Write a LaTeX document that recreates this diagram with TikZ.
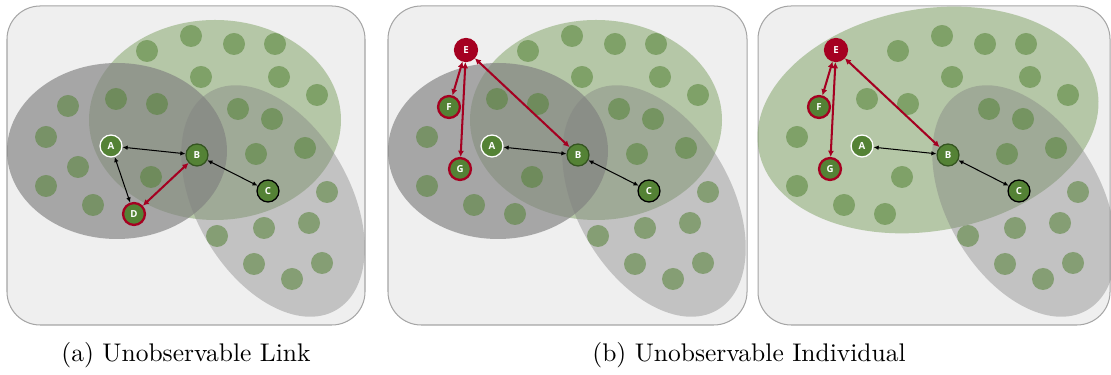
\documentclass[tikz,border=0pt]{standalone}
\usepackage{fontspec}
\newfontfamily\labelfont{Open Sans}
\usetikzlibrary{arrows.meta}
\definecolor{nodegreen}{RGB}{84,130,53}
\definecolor{dotgreen}{RGB}{84,130,53}
\definecolor{edgegreen}{RGB}{52,84,32}
\definecolor{hiddenred}{RGB}{165,0,33}
\definecolor{groupgreen}{RGB}{125,161,97}
\definecolor{groupgray}{RGB}{128,128,128}
\definecolor{panelgray}{RGB}{239,239,239}
\definecolor{bordergray}{RGB}{165,165,165}

\tikzset{
  panel/.style={draw=bordergray, fill=panelgray, line width=0.4pt, rounded corners=13pt},
  agent/.style={circle, fill=nodegreen, minimum size=8.6pt, inner sep=0pt, line width=0.5pt,
    text=white, font=\labelfont\bfseries\fontsize{3.8pt}{4pt}\selectfont},
  hidden/.style={agent, draw=hiddenred, line width=0.9pt},
  tie/.style={line width=0.4pt, {Latex[length=2pt,width=1.8pt]}-{Latex[length=2pt,width=1.8pt]}},
  redtie/.style={draw=hiddenred, line width=0.8pt, {Latex[length=2.4pt,width=2.4pt]}-{Latex[length=2.4pt,width=2.4pt]}},
}

% dots of the crowd
\newcommand{\crowd}[1]{\foreach \dx/\dy in {#1} \fill[dotgreen, fill opacity=0.55] (\dx,-\dy) circle (11);}
\newcommand{\commondots}{\crowd{147/51,191/36,234/44,275/44,201/77,279/77,317/95,116/99,157/104,238/109,
  272/119,46/137,256/154,305/148,151/177,46/186,93/205,327/192,217/236,264/228,309/223,254/264,292/279,322/263}}

\begin{document}
\begin{tikzpicture}[x=0.3922pt, y=0.3922pt]
  \useasboundingbox (0,0) rectangle (1111,-375);
  \clip (0,0) rectangle (1111,-375);

  % (a) Unobservable Link
  \draw[panel] (7,-6) rectangle (365,-325);
  \fill[groupgreen, fill opacity=0.5] (215,-120) ellipse [x radius=126, y radius=100];
  \fill[groupgray, fill opacity=0.65] (117,-151) ellipse [x radius=110, y radius=88];
  \fill[groupgray, fill opacity=0.4, rotate around={-60:(273,-201)}] (273,-201) ellipse [x radius=126, y radius=77];
  \commondots
  \crowd{68/106,78/167}

  \node[agent, draw=white] (a1) at (111,-146) {A};
  \node[agent, draw=edgegreen] (b1) at (197,-155) {B};
  \node[agent, draw=black] (c1) at (268,-191) {C};
  \node[hidden] (d1) at (134,-214) {D};

  \draw[tie] (a1) -- (b1);
  \draw[tie] (a1) -- (d1);
  \draw[tie] (b1) -- (c1);
  \draw[redtie] (d1) -- (b1);

  % (b) Unobservable Individual, left
  \begin{scope}[shift={(381,0)}]
    \draw[panel] (7,-6) rectangle (366,-325);
    \fill[groupgreen, fill opacity=0.5] (215,-120) ellipse [x radius=126, y radius=100];
    \fill[groupgray, fill opacity=0.65] (117,-151) ellipse [x radius=110, y radius=88];
    \fill[groupgray, fill opacity=0.4, rotate around={-60:(273,-201)}] (273,-201) ellipse [x radius=126, y radius=77];
    \commondots
    \crowd{134/214}

    \node[agent, draw=white] (a2) at (111,-146) {A};
    \node[agent, draw=edgegreen] (b2) at (197,-155) {B};
    \node[agent, draw=black] (c2) at (268,-191) {C};
    \node[hidden, fill=hiddenred] (e2) at (85,-50) {E};
    \node[hidden] (f2) at (68,-107) {F};
    \node[hidden] (g2) at (79,-169) {G};

    \draw[tie] (a2) -- (b2);
    \draw[tie] (b2) -- (c2);
    \draw[redtie] (e2) -- (f2);
    \draw[redtie] (e2) -- (g2);
    \draw[redtie] (e2) -- (b2);
  \end{scope}

  % (b) Unobservable Individual, right
  \begin{scope}[shift={(751,0)}]
    \draw[panel] (7,-6) rectangle (359,-325);
    \fill[groupgreen, fill opacity=0.5, rotate around={10:(177,-120)}] (177,-120) ellipse [x radius=172, y radius=111];
    \fill[groupgray, fill opacity=0.4, rotate around={-60:(273,-201)}] (273,-201) ellipse [x radius=126, y radius=77];
    \commondots
    \crowd{134/214}

    \node[agent, draw=white] (a3) at (111,-146) {A};
    \node[agent, draw=edgegreen] (b3) at (197,-155) {B};
    \node[agent, draw=black] (c3) at (268,-191) {C};
    \node[hidden, fill=hiddenred] (e3) at (85,-50) {E};
    \node[hidden] (f3) at (68,-107) {F};
    \node[hidden] (g3) at (79,-169) {G};

    \draw[tie] (a3) -- (b3);
    \draw[tie] (b3) -- (c3);
    \draw[redtie] (e3) -- (f3);
    \draw[redtie] (e3) -- (g3);
    \draw[redtie] (e3) -- (b3);
  \end{scope}

  % captions
  \node (capa) at (186,-355) {(a) Unobservable Link};
  \node (capb) at (749,-355) {(b) Unobservable Individual};
\end{tikzpicture}
\end{document}
